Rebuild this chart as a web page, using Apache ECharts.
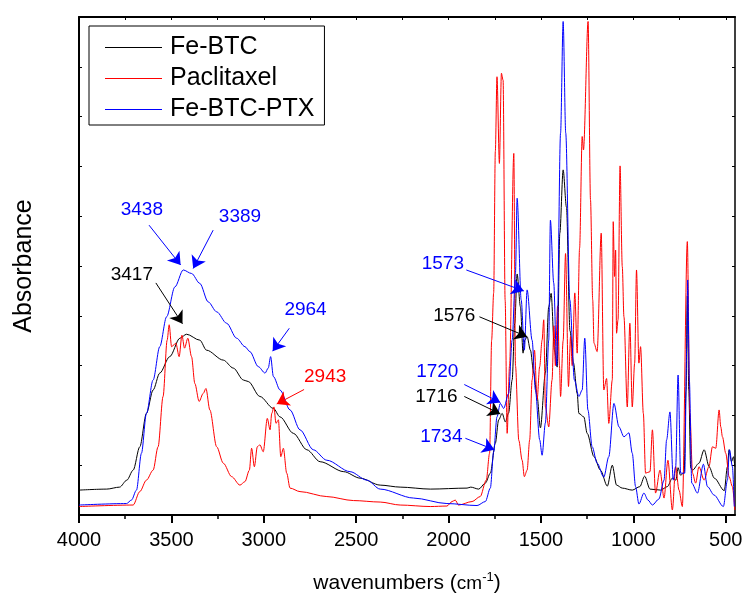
<!DOCTYPE html>
<html>
<head>
<meta charset="utf-8">
<script src="https://cdn.jsdelivr.net/npm/echarts@6/dist/echarts.min.js"></script>
<style>html,body{margin:0;padding:0;background:#fff}#c{width:744px;height:596px}</style>
</head>
<body>
<div id="c"></div>
<script>
// ---- data ----
const seriesNames = ['Fe-BTC', 'Paclitaxel', 'Fe-BTC-PTX'];
const majorTicks = [500, 1000, 1500, 2000, 2500, 3000, 3500, 4000];
const minorTicks = [750, 1250, 1750, 2250, 2750, 3250, 3750];

const feBtcWn = [4000,3850,3780,3741,3707,3671,3635,3599,3563,3509,3454,3418,3346,3310,3219,3165,3110,3084,3021,2948,2912,2840,2767,2695,2567,2479,2370,2262,2099,1900,1880,1837,1801,1774,1747,1729,1710,1693,1675,1656,1642,1629,1611,1597,1588,1575,1557,1539,1521,1503,1476,1458,1445,1427,1412,1398,1380,1362,1343,1324,1304,1295,1268,1250,1213,1178,1141,1114,1091,1060,1006,965,939,910,852,816,789,770,758,745,725,715,708,700,690,680,645,617,590,562,508,491,482,469,458,451];
const feBtcAbs = [5.0,5.2,5.6,7.0,9.0,13.7,20.4,25.1,28.5,31.8,35.5,36.3,35.1,33.1,31.1,29.5,27.1,26.8,23.8,21.4,19.7,16.4,13.1,10.7,8.7,7.4,6.0,5.6,5.2,5.4,5.6,5.2,6.4,8.4,14.4,19.1,20.4,18.7,20.5,27.1,38.5,48.4,41.8,32.5,35.1,35.8,33.1,28.5,23.8,17.5,28.5,41.8,44.5,33.1,29.7,56.6,69.3,61.8,37.0,30.5,24.4,20.4,19.7,16.4,11.7,9.0,5.8,10.0,6.0,5.4,5.0,5.7,7.8,5.2,5.0,5.7,7.4,7.0,9.5,8.0,8.5,25.0,44.0,25.0,9.5,9.0,10.4,13.1,9.7,7.4,4.9,9.7,13.1,10.7,11.7,9.7];

const ptxWn = [4000,3707,3671,3635,3599,3572,3545,3523,3512,3499,3476,3458,3443,3429,3411,3391,3373,3350,3328,3313,3292,3255,3219,3174,3129,3102,3078,3066,3051,3035,3021,3003,2981,2966,2957,2945,2934,2921,2908,2894,2876,2858,2804,2659,2515,2370,2262,2099,2009,1981,1964,1946,1873,1829,1796,1778,1767,1756,1747,1738,1725,1714,1705,1694,1683,1670,1647,1638,1620,1602,1590,1575,1561,1548,1535,1521,1507,1494,1485,1476,1458,1440,1430,1422,1410,1400,1394,1380,1367,1351,1340,1331,1317,1304,1291,1277,1270,1245,1232,1220,1213,1196,1174,1160,1145,1133,1114,1109,1102,1096,1091,1083,1072,1060,1051,1033,1019,1006,993,983,970,961,946,934,910,897,880,856,834,813,789,771,753,735,708,694,680,663,645,617,591,572,554,536,527,518,500,482,464,451];
const ptxAbs = [1.7,2.0,4.7,7.0,9.0,13.7,23.8,35.1,38.2,33.8,34.5,31.8,36.1,33.5,35.5,31.8,26.4,22.8,24.4,25.4,21.1,13.7,10.4,7.7,6.0,6.7,9.0,13.4,9.7,13.7,14.1,12.7,19.4,17.1,20.4,21.7,18.4,19.1,11.7,13.4,8.4,5.4,4.7,3.7,2.9,2.6,2.0,1.7,1.8,2.7,3.0,2.0,2.7,3.7,7.0,12.4,35.1,44.6,73.0,88.0,70.6,88.7,87.3,43.2,16.4,30.0,72.6,30.0,15.0,11.0,7.7,9.0,15.1,27.1,33.1,23.1,29.8,35.1,39.2,21.7,17.7,27.1,38.0,30.0,42.0,30.0,23.8,35.0,52.5,25.8,35.8,30.0,44.6,32.5,53.6,76.0,73.3,99.1,63.3,43.2,34.5,32.8,56.6,25.1,27.4,18.4,27.1,58.9,47.9,53.2,36.5,39.2,70.1,49.9,39.8,21.7,38.5,21.7,30.5,49.2,30.5,33.8,20.4,8.4,8.7,17.1,4.4,9.0,3.4,11.0,1.0,9.7,5.0,1.7,54.9,20.4,8.4,6.4,9.7,7.0,9.7,13.7,13.4,21.1,17.7,15.7,12.4,7.7,5.7,1.0];

const feBtcPtxWn = [4000,3743,3716,3689,3662,3635,3599,3563,3526,3481,3436,3391,3346,3301,3255,3201,3147,3102,3075,3030,2993,2976,2963,2948,2912,2858,2804,2732,2659,2533,2442,2370,2189,2009,1846,1801,1774,1756,1738,1720,1702,1675,1656,1638,1629,1607,1590,1575,1548,1530,1507,1494,1476,1458,1449,1431,1415,1394,1380,1366,1344,1319,1295,1277,1263,1246,1223,1196,1160,1133,1105,1078,1051,1024,1006,988,970,943,921,897,862,834,820,802,784,771,758,744,722,711,706,697,684,653,621,599,563,513,491,480,464,454];
const feBtcPtxAbs = [2.0,2.3,3.0,5.0,12.4,20.4,27.1,33.8,39.8,45.8,49.2,48.5,46.5,42.8,40.8,38.5,35.5,33.8,32.8,29.8,28.5,29.5,31.8,27.8,25.1,21.1,17.1,13.1,11.0,8.7,7.0,5.2,3.4,2.3,1.9,2.7,5.4,12.7,19.7,22.4,21.4,24.4,35.1,48.5,63.6,43.2,33.1,45.2,35.1,25.1,15.1,12.0,18.5,35.1,59.2,46.6,30.0,76.7,99.1,76.7,43.2,27.1,23.8,25.1,35.5,21.1,13.7,10.4,7.6,11.7,22.4,17.7,15.7,16.5,12.4,5.7,2.2,4.4,3.0,2.0,3.2,7.0,15.1,20.7,7.0,9.7,28.1,8.4,8.4,33.7,47.2,27.1,6.4,4.4,10.2,5.7,4.0,1.7,7.0,13.1,9.7,1.7];

// annotations: label text, label position, arrow start, arrow tip (data coordinates)
const annText   = ['3438','3389','3417','2964','2943','1573','1576','1720','1716','1734'];
const annSeries = [2, 2, 0, 2, 1, 2, 0, 2, 0, 2];
const annLabelWn  = [3660,3129,3714,2774,2668,2031,1969,2061,2066,2039];
const annLabelAbs = [61.2,59.8,48.2,41.2,27.7,50.4,40.0,28.7,23.7,15.7];
const annFromWn   = [3621,3274,3584,2862,2782,1904,1833,1915,1915,1909];
const annFromAbs  = [58.2,57.2,46.6,37.5,25.2,49.2,39.8,26.2,23.8,15.4];
const annToWn     = [3450,3382,3440,2952,2930,1593,1575,1720,1720,1752];
const annToAbs    = [50.2,49.5,38.4,32.9,22.3,45.0,35.8,22.6,20.3,13.1];

// ---- chart ----
const FONT = '"Liberation Sans", Arial, Helvetica, sans-serif';
const colors = ['#000000', '#ff0000', '#0000ff'];
const wnArr = [feBtcWn, ptxWn, feBtcPtxWn];
const absArr = [feBtcAbs, ptxAbs, feBtcPtxAbs];

function pairs(w, a) { return w.map((x, i) => [x, a[i]]); }

const series = seriesNames.map((name, si) => {
  const lines = [], points = [];
  annText.forEach((t, i) => {
    if (annSeries[i] !== si) return;
    lines.push([{ coord: [annFromWn[i], annFromAbs[i]] }, { coord: [annToWn[i], annToAbs[i]] }]);
    points.push({ name: t, coord: [annLabelWn[i], annLabelAbs[i]] });
  });
  return {
    name, type: 'line', data: pairs(wnArr[si], absArr[si]),
    symbol: 'none', showSymbol: false, smooth: 0.3, smoothMonotone: 'x',
    lineStyle: { color: colors[si], width: 1 },
    itemStyle: { color: colors[si] },
    z: 2 + si,
    markLine: {
      silent: true, animation: false,
      symbol: ['none', 'arrow'], symbolSize: 12,
      lineStyle: { color: colors[si], width: 1, type: 'solid' },
      itemStyle: { color: colors[si] },
      label: { show: false },
      emphasis: { disabled: true },
      data: lines
    },
    markPoint: {
      silent: true, animation: false,
      symbol: 'rect', symbolSize: 1,
      itemStyle: { color: 'rgba(0,0,0,0)' },
      label: { show: true, position: 'inside', formatter: '{b}', color: colors[si], fontSize: 19, fontFamily: FONT },
      data: points
    }
  };
});

const chart = echarts.init(document.getElementById('c'), null, { renderer: 'canvas' });
chart.setOption({
  animation: false,
  backgroundColor: '#fff',
  grid: { left: 79, right: 9, top: 17, bottom: 81, containLabel: false, outerBoundsMode: 'none' },
  legend: {
    data: seriesNames, orient: 'vertical', left: 89, top: 26, icon: 'rect',
    borderColor: '#000', borderWidth: 1, backgroundColor: '#fff',
    padding: [9, 10, 3, 16], itemGap: 6, itemWidth: 57, itemHeight: 1,
    textStyle: { fontSize: 25, fontFamily: FONT, color: '#000', lineHeight: 25, padding: [0, 0, 0, 3] }
  },
  xAxis: [
    {
      type: 'value', min: 450, max: 4000, inverse: true, position: 'bottom',
      axisLine: { show: true, onZero: false, lineStyle: { color: '#000', width: 2 } },
      axisTick: { show: true, inside: false, length: 8, customValues: majorTicks, lineStyle: { color: '#000', width: 2 } },
      axisLabel: { customValues: majorTicks, formatter: v => String(v), fontSize: 20, fontFamily: FONT, color: '#000', margin: 15 },
      splitLine: { show: false },
      name: '{a|wavenumbers (}{b|cm}{s|-1}{a|)}', nameLocation: 'middle', nameGap: 56,
      nameTextStyle: {
        rich: {
          a: { fontSize: 21, fontFamily: FONT, color: '#000' },
          b: { fontSize: 19, fontFamily: FONT, color: '#000' },
          s: { fontSize: 13, fontFamily: FONT, color: '#000', padding: [0, 0, 12, 0] }
        }
      }
    },
    {
      type: 'value', min: 450, max: 4000, inverse: true, position: 'bottom',
      axisLine: { show: false },
      axisTick: { show: true, inside: false, length: 4, customValues: minorTicks, lineStyle: { color: '#000', width: 1.5 } },
      axisLabel: { show: false }, splitLine: { show: false }
    },
    {
      type: 'value', min: 450, max: 4000, inverse: true, position: 'top',
      axisLine: { show: true, onZero: false, lineStyle: { color: '#000', width: 2 } },
      axisTick: { show: true, inside: true, length: 3, customValues: majorTicks.concat(minorTicks), lineStyle: { color: '#000', width: 1 } },
      axisLabel: { show: false }, splitLine: { show: false }
    }
  ],
  yAxis: [
    {
      type: 'value', min: 0, max: 100, interval: 10, position: 'left',
      axisLine: { show: true, onZero: false, lineStyle: { color: '#000', width: 2 } },
      axisTick: { show: true, inside: true, length: 3, lineStyle: { color: '#000' } },
      axisLabel: { show: false }, splitLine: { show: false },
      name: 'Absorbance', nameLocation: 'middle', nameGap: 42, nameRotate: 90,
      nameTextStyle: { fontSize: 25, fontFamily: FONT, color: '#000' }
    },
    {
      type: 'value', min: 0, max: 100, interval: 10, position: 'right',
      axisLine: { show: true, onZero: false, lineStyle: { color: '#000', width: 1.5 } },
      axisTick: { show: true, inside: true, length: 3, lineStyle: { color: '#000' } },
      axisLabel: { show: false }, splitLine: { show: false }
    }
  ],
  series
});
</script>
</body>
</html>
